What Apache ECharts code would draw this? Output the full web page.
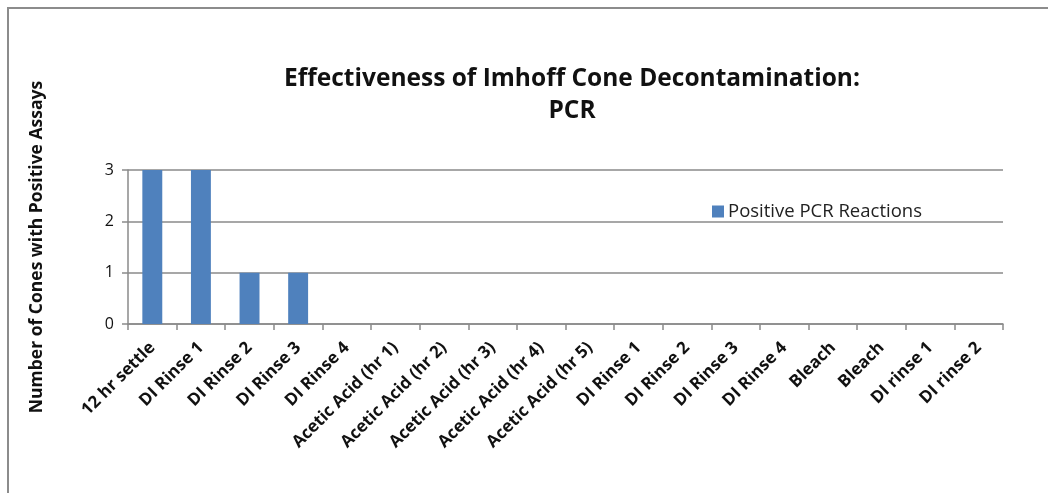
<!DOCTYPE html>
<html>
<head>
<meta charset="utf-8">
<style>
  html, body { margin: 0; padding: 0; background: #ffffff; }
  #chart { width: 1048px; height: 493px; }
</style>
<script src="https://cdn.jsdelivr.net/npm/echarts@6/dist/echarts.min.js"></script>
</head>
<body>
<div id="chart"></div>
<script>
// Decontamination steps, in the order they were sampled
const categories = [
  '12 hr settle', 'DI Rinse 1', 'DI Rinse 2', 'DI Rinse 3', 'DI Rinse 4',
  'Acetic Acid (hr 1)', 'Acetic Acid (hr 2)', 'Acetic Acid (hr 3)',
  'Acetic Acid (hr 4)', 'Acetic Acid (hr 5)',
  'DI Rinse 1', 'DI Rinse 2', 'DI Rinse 3', 'DI Rinse 4',
  'Bleach', 'Bleach', 'DI rinse 1', 'DI rinse 2'
];
// Number of cones giving a positive PCR reaction at each step
const positivePCR = [3, 3, 1, 1, 0, 0, 0, 0, 0, 0, 0, 0, 0, 0, 0, 0, 0, 0];
const seriesName = 'Positive PCR Reactions';
const yTicks = { min: 0, max: 3, interval: 1 };

const FONT = '"Open Sans", Lato, sans-serif';
const GRID_GREY = '#8a8a8a';

const chart = echarts.init(document.getElementById('chart'), null, { renderer: 'canvas' });

chart.setOption({
  backgroundColor: '#ffffff',
  animation: false,
  title: {
    text: 'Effectiveness of Imhoff Cone Decontamination:\nPCR',
    left: 567,
    top: 58,
    textAlign: 'center',
    textStyle: {
      fontFamily: FONT,
      fontSize: 24.5,
      fontWeight: 'bold',
      color: '#111111',
      lineHeight: 32
    }
  },
  legend: {
    left: 707,
    top: 197,
    itemWidth: 12,
    itemHeight: 12,
    itemGap: 6,
    icon: 'rect',
    textStyle: { fontFamily: FONT, fontSize: 18.5, color: '#222222', padding: [0, 0, 0, -1] },
    data: [seriesName]
  },
  grid: { left: 128, right: 45, top: 170, bottom: 169, containLabel: false },
  xAxis: {
    type: 'category',
    data: categories,
    boundaryGap: true,
    axisLine: { show: true, lineStyle: { color: GRID_GREY, width: 1.5 } },
    axisTick: { show: true, alignWithLabel: false, length: 6, lineStyle: { color: GRID_GREY, width: 1.5 } },
    axisLabel: {
      interval: 0,
      rotate: 45,
      margin: 21,
      fontFamily: FONT,
      fontSize: 17,
      fontWeight: 'bold',
      color: '#111111'
    },
    splitLine: { show: false }
  },
  yAxis: {
    type: 'value',
    min: yTicks.min,
    max: yTicks.max,
    interval: yTicks.interval,
    name: 'Number of Cones with Positive Assays',
    nameLocation: 'middle',
    nameGap: 82,
    nameRotate: 90,
    nameTextStyle: {
      fontFamily: FONT,
      fontSize: 17.5,
      fontWeight: 'bold',
      color: '#111111'
    },
    axisLine: { show: true, lineStyle: { color: GRID_GREY, width: 1.5 } },
    axisTick: { show: true, inside: false, length: 6, lineStyle: { color: GRID_GREY, width: 1.5 } },
    axisLabel: {
      margin: 14,
      fontFamily: FONT,
      fontSize: 16,
      color: '#111111'
    },
    splitLine: { show: true, lineStyle: { color: GRID_GREY, width: 1.5 } }
  },
  series: [{
    name: seriesName,
    type: 'bar',
    data: positivePCR,
    barWidth: '41%',
    itemStyle: { color: '#4f81bd' }
  }],
  graphic: [
    // chart frame: top and left edges of the outer border
    {
      type: 'polyline',
      shape: { points: [[8, 493], [8, 8], [1048, 8]] },
      style: { stroke: '#8c8c8c', lineWidth: 2, fill: null },
      silent: true
    }
  ]
});
</script>
</body>
</html>
